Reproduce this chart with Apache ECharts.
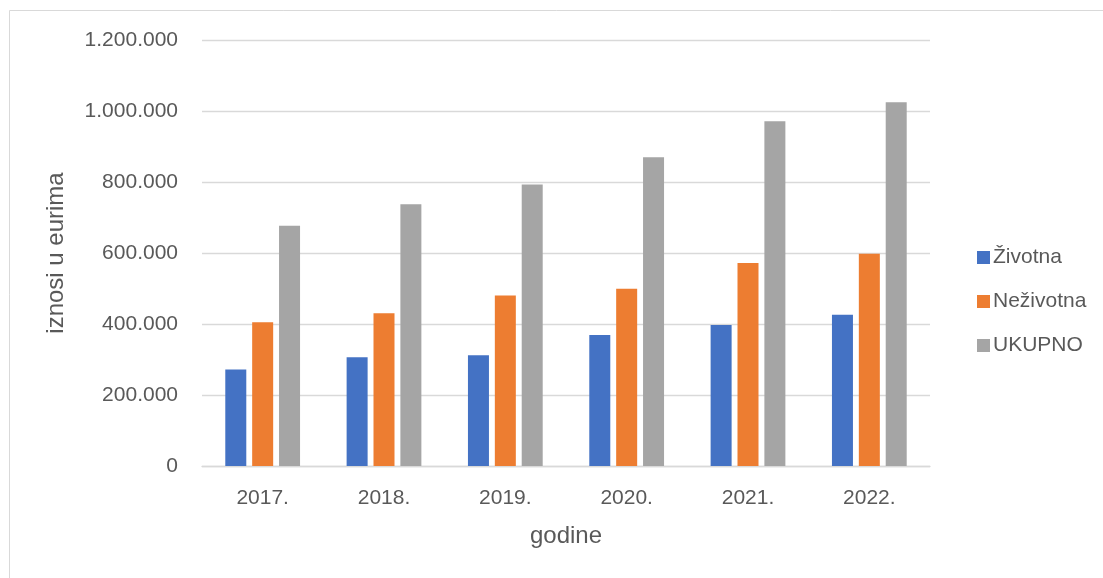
<!DOCTYPE html>
<html>
<head>
<meta charset="utf-8">
<script src="https://cdn.jsdelivr.net/npm/echarts@6/dist/echarts.min.js"></script>
<style>
html,body{margin:0;padding:0;background:#fff;}
#chart{width:1103px;height:578px;}
</style>
</head>
<body>
<div id="chart"></div>
<script>
var categories = ['2017.', '2018.', '2019.', '2020.', '2021.', '2022.'];
var zivotna = [272000, 306000, 312000, 369000, 397000, 426000];
var nezivotna = [405000, 430000, 480000, 499000, 572000, 598000];
var ukupno = [677000, 737000, 793000, 870000, 971000, 1025000];
var seriesNames = ['Životna', 'Neživotna', 'UKUPNO'];
var yTicks = { min: 0, max: 1200000, interval: 200000 };

function fmt(v) {
  return String(v).replace(/\B(?=(\d{3})+(?!\d))/g, '.');
}

var FONT = '"Liberation Sans", Arial, sans-serif';
var TXT = '#595959';
var chart = echarts.init(document.getElementById('chart'));
chart.setOption({
  animation: false,
  backgroundColor: '#ffffff',
  textStyle: { fontFamily: FONT },
  graphic: [{
    type: 'rect',
    shape: { x: 9.5, y: 10.5, width: 1200, height: 700 },
    style: { fill: 'none', stroke: '#d9d9d9', lineWidth: 1 },
    silent: true
  }],
  grid: { left: 202, right: 173, top: 40, bottom: 112, containLabel: false },
  legend: {
    orient: 'vertical',
    left: 972,
    top: 242,
    itemWidth: 13,
    itemHeight: 13,
    itemGap: 23,
    icon: 'rect',
    textStyle: { fontFamily: FONT, fontSize: 21, color: TXT, padding: [0, 0, 0, -2] },
    data: seriesNames
  },
  xAxis: {
    type: 'category',
    data: categories,
    name: 'godine',
    nameLocation: 'middle',
    nameGap: 58,
    nameTextStyle: { fontFamily: FONT, fontSize: 24, color: TXT },
    axisLine: { lineStyle: { color: '#d9d9d9', width: 1.3 } },
    axisTick: { show: false },
    axisLabel: { fontFamily: FONT, fontSize: 21, color: TXT, margin: 22 }
  },
  yAxis: {
    type: 'value',
    min: yTicks.min,
    max: yTicks.max,
    interval: yTicks.interval,
    name: 'iznosi u eurima',
    nameLocation: 'middle',
    nameGap: 134,
    nameTextStyle: { fontFamily: FONT, fontSize: 24, color: TXT },
    axisLine: { show: false },
    axisTick: { show: false },
    splitLine: { lineStyle: { color: '#d9d9d9', width: 1.3 } },
    axisLabel: { fontFamily: FONT, fontSize: 21, color: TXT, margin: 24, formatter: fmt }
  },
  series: [
    { name: seriesNames[0], type: 'bar', data: zivotna, barWidth: 21, barGap: '28%', itemStyle: { color: '#4472C4' } },
    { name: seriesNames[1], type: 'bar', data: nezivotna, barWidth: 21, barGap: '28%', itemStyle: { color: '#ED7D31' } },
    { name: seriesNames[2], type: 'bar', data: ukupno, barWidth: 21, barGap: '28%', itemStyle: { color: '#A5A5A5' } }
  ]
});
</script>
</body>
</html>
